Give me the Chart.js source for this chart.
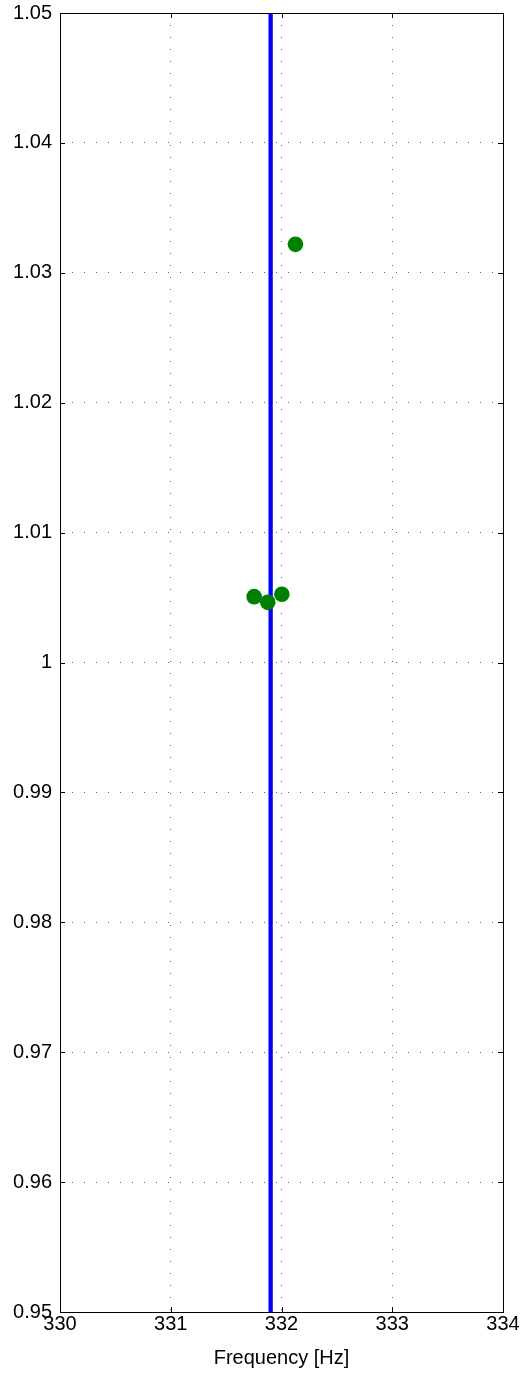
<!DOCTYPE html>
<html><head><meta charset="utf-8">
<script src="https://cdn.jsdelivr.net/npm/chart.js@4/dist/chart.umd.min.js"></script>
<style>html,body{margin:0;padding:0;background:#fff}#wrap{width:523px;height:1378px}</style>
</head><body><div id="wrap"><canvas id="c"></canvas></div>
<script>
const xTicks = [330, 331, 332, 333, 334];
const yTicks = [0.95, 0.96, 0.97, 0.98, 0.99, 1.0, 1.01, 1.02, 1.03, 1.04, 1.05];
const lineFreq = [331.902, 331.902];
const lineVals = [0.95, 1.05];
const pointFreq = [331.753, 331.876, 332.003, 332.126];
const pointVals = [1.00507, 1.00463, 1.00525, 1.03219];
const xTitle = 'Frequency [Hz]';

const FONT = 'Liberation Sans, Arial, sans-serif';

const frame = {
  id: 'frame',
  afterDatasetsDraw(chart) {
    const {ctx, chartArea: a, scales: {x, y}} = chart;
    ctx.save();
    ctx.strokeStyle = '#000';
    ctx.lineWidth = 1;
    const L = 5;
    ctx.beginPath();
    xTicks.forEach(v => {
      const px = Math.round(x.getPixelForValue(v)) + 0.5;
      ctx.moveTo(px, a.bottom); ctx.lineTo(px, a.bottom - L);
      ctx.moveTo(px, a.top); ctx.lineTo(px, a.top + L);
    });
    yTicks.forEach(v => {
      const py = Math.round(y.getPixelForValue(v)) + 0.5;
      ctx.moveTo(a.left, py); ctx.lineTo(a.left + L, py);
      ctx.moveTo(a.right, py); ctx.lineTo(a.right - L, py);
    });
    ctx.stroke();
    ctx.strokeRect(Math.round(a.left) + 0.5, Math.round(a.top) + 0.5, Math.round(a.right - a.left), Math.round(a.bottom - a.top));
    ctx.restore();
  }
};

new Chart(document.getElementById('c'), {
  type: 'scatter',
  data: {
    datasets: [
      {
        type: 'line',
        data: lineFreq.map((f, i) => ({x: f, y: lineVals[i]})),
        borderColor: '#0000ff',
        borderWidth: 4.3,
        pointRadius: 0,
        fill: false,
        order: 2
      },
      {
        data: pointFreq.map((f, i) => ({x: f, y: pointVals[i]})),
        backgroundColor: '#008000',
        borderColor: '#008000',
        pointRadius: 7.8,
        borderWidth: 0,
        order: 1
      }
    ]
  },
  options: {
    responsive: true,
    maintainAspectRatio: false,
    animation: false,
    layout: {padding: {top: 13, right: 20, left: 0, bottom: 0}},
    plugins: {legend: {display: false}, tooltip: {enabled: false}},
    scales: {
      x: {
        type: 'linear', min: 330, max: 334,
        afterBuildTicks(s) { s.ticks = xTicks.map(v => ({value: v})); },
        afterFit(s) { s.height = 66; s.paddingLeft = 0; s.paddingRight = 0; },
        grid: {color: 'rgba(0,0,0,0.6)', lineWidth: 1, drawTicks: false},
        border: {display: false, dash: [1, 11]},
        ticks: {color: '#000', font: {family: FONT, size: 20}, padding: 0, maxRotation: 0, callback: v => String(v)},
        title: {display: true, text: xTitle, color: '#000', font: {family: FONT, size: 20}, padding: {top: 4, bottom: 8}}
      },
      y: {
        type: 'linear', min: 0.95, max: 1.05,
        afterBuildTicks(s) { s.ticks = yTicks.map(v => ({value: v})); },
        afterFit(s) { s.width = 60; s.paddingTop = 0; s.paddingBottom = 0; },
        grid: {color: 'rgba(0,0,0,0.6)', lineWidth: 1, drawTicks: false},
        border: {display: false, dash: [1, 11]},
        ticks: {color: '#000', font: {family: FONT, size: 20}, padding: 8, callback: v => String(Number(v.toFixed(2)))}
      }
    }
  },
  plugins: [frame]
});
</script>
</body></html>
